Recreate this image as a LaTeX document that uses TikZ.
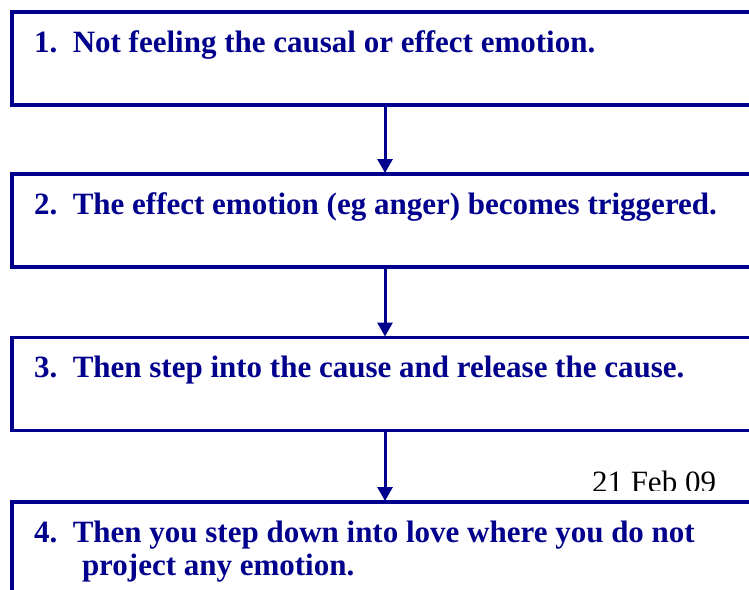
\documentclass[tikz,border=0pt]{standalone}
\usepackage{fontspec}
\setmainfont{Liberation Serif}
\usetikzlibrary{arrows.meta}
\definecolor{navy}{RGB}{0,0,140}
\tikzset{
  box/.style={draw=navy, line width=3.5pt, rectangle, anchor=north west, outer sep=0pt, inner sep=0pt, minimum width=780pt, minimum height=93pt},
  label/.style={anchor=base west, inner sep=0pt, outer sep=0pt, text=navy, font=\fontsize{31}{33}\selectfont\bfseries},
  datetext/.style={anchor=base west, inner sep=0pt, outer sep=0pt, text=black, font=\fontsize{31}{33}\selectfont},
  conn/.style={draw=navy, line width=3pt, -{Triangle[width=15pt,length=14pt]}, shorten >=1pt}
}
\begin{document}
\frenchspacing
\begin{tikzpicture}[x=1pt,y=-1pt]
\useasboundingbox (0,0) rectangle (749,589);
\fill[white] (0,0) rectangle (749,589);
\clip (0,0) rectangle (749,589);
\coordinate (ax) at (385,0);
\node[box] (b1) at (12,12) {};
\node[box] (b2) at (12,174) {};
\node[box] (b3) at (12,337.5) {};
\node[box, minimum height=150pt] (b4) at (12,502) {};
\node[label] (t1) at (34,52) {1.\ \ Not feeling the causal or effect emotion.};
\node[label] (t2) at (34,214) {2.\ \ The effect emotion (eg anger) becomes triggered.};
\node[label] (t3) at (34,377.5) {3.\ \ Then step into the cause and release the cause.};
\node[label] (t4) at (34,542) {4.\ \ Then you step down into love where you do not};
\node[label] (t4b) at (82,575) {project any emotion.};
\begin{scope}
\clip (560,450) rectangle (749,490);
\node[datetext] (d) at (592,492.5) {21 Feb 09};
\end{scope}
\draw[conn] (b1.south -| ax) -- (b2.north -| ax);
\draw[conn] (b2.south -| ax) -- (b3.north -| ax);
\draw[conn] (b3.south -| ax) -- (b4.north -| ax);
\end{tikzpicture}
\end{document}
